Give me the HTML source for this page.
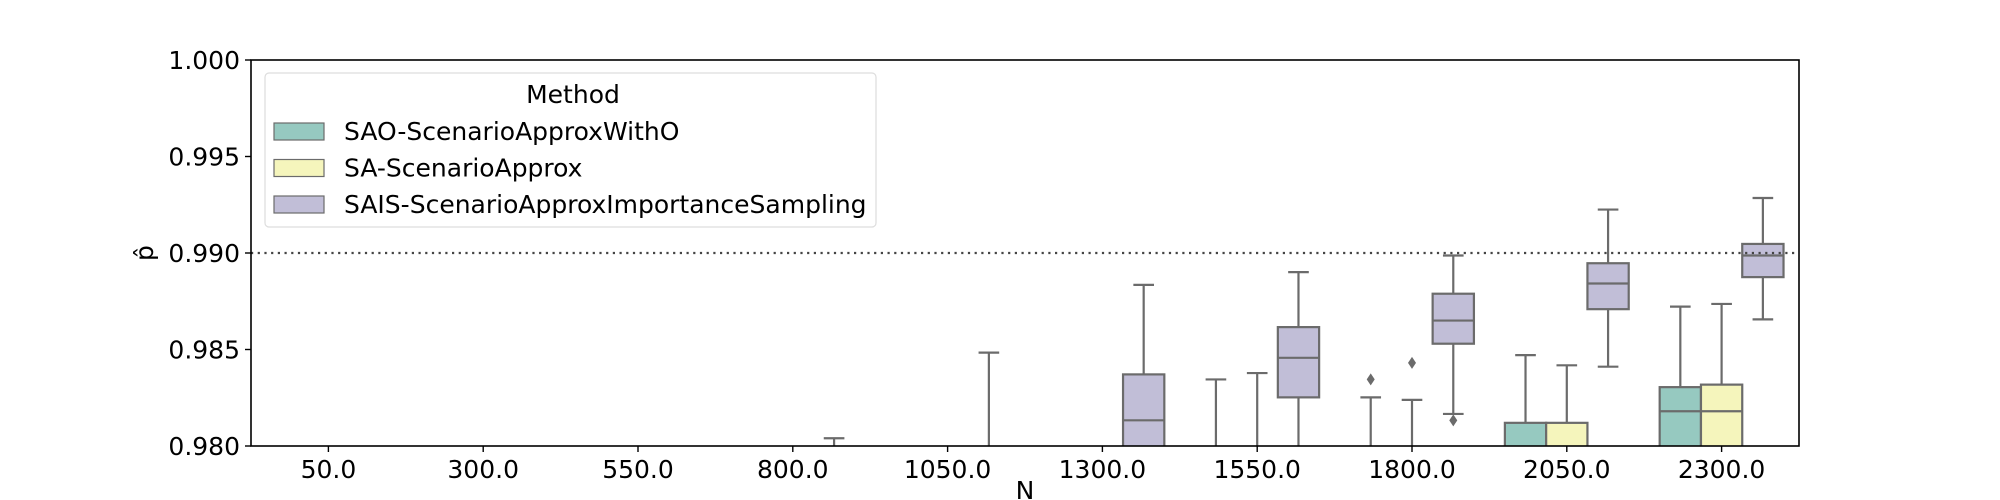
<!DOCTYPE html>
<html><head><meta charset="utf-8"><style>
html,body{margin:0;padding:0;background:#fff;overflow:hidden;width:2000px;height:500px;}
svg{display:block;font-family:"DejaVu Sans","Liberation Sans",sans-serif;overflow:hidden;}
</style></head><body>
<svg id="chart" width="2000" height="500">
<defs><clipPath id="plotclip"><rect x="251" y="60" width="1548" height="386"/></clipPath></defs>
<g id="plot" clip-path="url(#plotclip)"></g>
<g id="axes"></g>
</svg>
<script>
const categories = ["50.0","300.0","550.0","800.0","1050.0","1300.0","1550.0","1800.0","2050.0","2300.0"];
const methods = ["SAO-ScenarioApproxWithO","SA-ScenarioApprox","SAIS-ScenarioApproxImportanceSampling"];
const colors = ["#96c9c0","#f5f5bc","#c1bed7"];
const yTicks = [0.980,0.985,0.990,0.995,1.000];
// [whiskerLow, q1, median, q3, whiskerHigh] ; null = no box
const saoStats = [null,null,null,null,null,null,
  [0.970,0.975,0.977,0.979,0.98345],
  [0.970,0.975,0.977,0.979,0.98252],
  [0.975,0.977,0.979,0.9812,0.98471],
  [0.977,0.979,0.9818,0.98305,0.98722]];
const saStats = [null,null,null,null,null,null,
  [0.970,0.975,0.977,0.979,0.98378],
  [0.970,0.975,0.977,0.979,0.98239],
  [0.975,0.977,0.979,0.9812,0.98418],
  [0.977,0.979,0.9818,0.98318,0.98736]];
const saisStats = [null,null,null,
  [0.970,0.974,0.976,0.978,0.9804],
  [0.972,0.976,0.978,0.9795,0.98484],
  [0.976,0.978,0.98133,0.98371,0.98835],
  [0.978,0.98252,0.98457,0.98616,0.98901],
  [0.98166,0.9853,0.9865,0.98789,0.98987],
  [0.98411,0.98709,0.98842,0.98947,0.99225],
  [0.98656,0.98875,0.98987,0.99047,0.99285]];
const fliers = [[],[],[],[],[],[],[],
  [[0,0.98345],[1,0.98431],[2,0.98133]],[],[]];
const refLine = 0.990;

const L=251,R=1799,T=60,B=446,ymin=0.98,ymax=1.0;
const catW=(R-L)/categories.length, boxW=catW*0.8/3;
const xC=i=>L+catW*(i+0.5);
const xM=(i,m)=>xC(i)+(m-1)*boxW;
const y=v=>B-(v-ymin)/(ymax-ymin)*(B-T);
const NS="http://www.w3.org/2000/svg";
function mk(parent,tag,attrs,text){const e=document.createElementNS(NS,tag);for(const k in attrs)e.setAttribute(k,attrs[k]);if(text!==undefined)e.textContent=text;parent.appendChild(e);return e;}
const plot=document.getElementById('plot'), axes=document.getElementById('axes'), svg=document.getElementById('chart');
const G="#6b6b6b";
const allStats=[saoStats,saStats,saisStats];
allStats.forEach((stats,m)=>{stats.forEach((s,i)=>{if(!s)return;
  const cx=xM(i,m),x0=cx-boxW/2;
  const g=mk(plot,'g',{});
  
  
  mk(g,'line',{x1:cx,x2:cx,y1:y(s[3]),y2:y(s[4]),stroke:G,'stroke-width':2.2});
  mk(g,'line',{x1:cx,x2:cx,y1:y(s[1]),y2:y(s[0]),stroke:G,'stroke-width':2.2});
  mk(g,'line',{x1:cx-boxW/4,x2:cx+boxW/4,y1:y(s[4]),y2:y(s[4]),stroke:G,'stroke-width':2.2});
  mk(g,'line',{x1:cx-boxW/4,x2:cx+boxW/4,y1:y(s[0]),y2:y(s[0]),stroke:G,'stroke-width':2.2});
  mk(g,'rect',{x:x0,y:y(s[3]),width:boxW,height:y(s[1])-y(s[3]),fill:colors[m],stroke:G,'stroke-width':2.2});
  mk(g,'line',{x1:x0,x2:x0+boxW,y1:y(s[2]),y2:y(s[2]),stroke:G,'stroke-width':2.2});
});});
fliers.forEach((fs,i)=>fs.forEach(f=>{const cx=xM(i,f[0]),cy=y(f[1]);
  const p=mk(plot,'polygon',{points:`${cx},${cy-6} ${cx+4},${cy} ${cx},${cy+6} ${cx-4},${cy}`,fill:G});
  
  
}));
const rl=mk(plot,'line',{x1:L,x2:R,y1:y(refLine),y2:y(refLine),stroke:'#444','stroke-width':2.2,'stroke-dasharray':'2.2,4.5'});



const frame=mk(axes,'rect',{x:L,y:T,width:R-L,height:B-T,fill:'none',stroke:'#000','stroke-width':1.6});


yTicks.forEach(v=>{mk(axes,'line',{x1:L-6,x2:L,y1:y(v),y2:y(v),stroke:'#000','stroke-width':1.4});
  const t=mk(axes,'text',{x:L-11,y:y(v)+9,'text-anchor':'end','font-size':25},v.toFixed(3));
  
  });
categories.forEach((c,i)=>{mk(axes,'line',{x1:xC(i),x2:xC(i),y1:B,y2:B+6,stroke:'#000','stroke-width':1.4});
  const t=mk(axes,'text',{x:xC(i),y:B+32,'text-anchor':'middle','font-size':25},c);
  
  });
const xl=mk(axes,'text',{x:(L+R)/2,y:499,'text-anchor':'middle','font-size':25},'N');


const yl=mk(axes,'text',{x:0,y:0,'text-anchor':'middle','font-size':25,transform:`translate(153,${y(0.990)}) rotate(-90)`},'p̂');



const lg=mk(svg,'g',{});


mk(lg,'rect',{x:265,y:73,width:611,height:154,rx:4,fill:'#fff','fill-opacity':0.8,stroke:'#ddd','stroke-width':1.2});
mk(lg,'text',{x:573,y:103,'text-anchor':'middle','font-size':25},'Method');
methods.forEach((m,k)=>{const cy=131+k*36.5;
  const e=mk(lg,'g',{});
  
  
  mk(e,'rect',{x:274,y:cy-8,width:50,height:17,fill:colors[k],stroke:G,'stroke-width':1.2});
  mk(e,'text',{x:344,y:cy+9,'font-size':25},m);
});
</script>
</body></html>
